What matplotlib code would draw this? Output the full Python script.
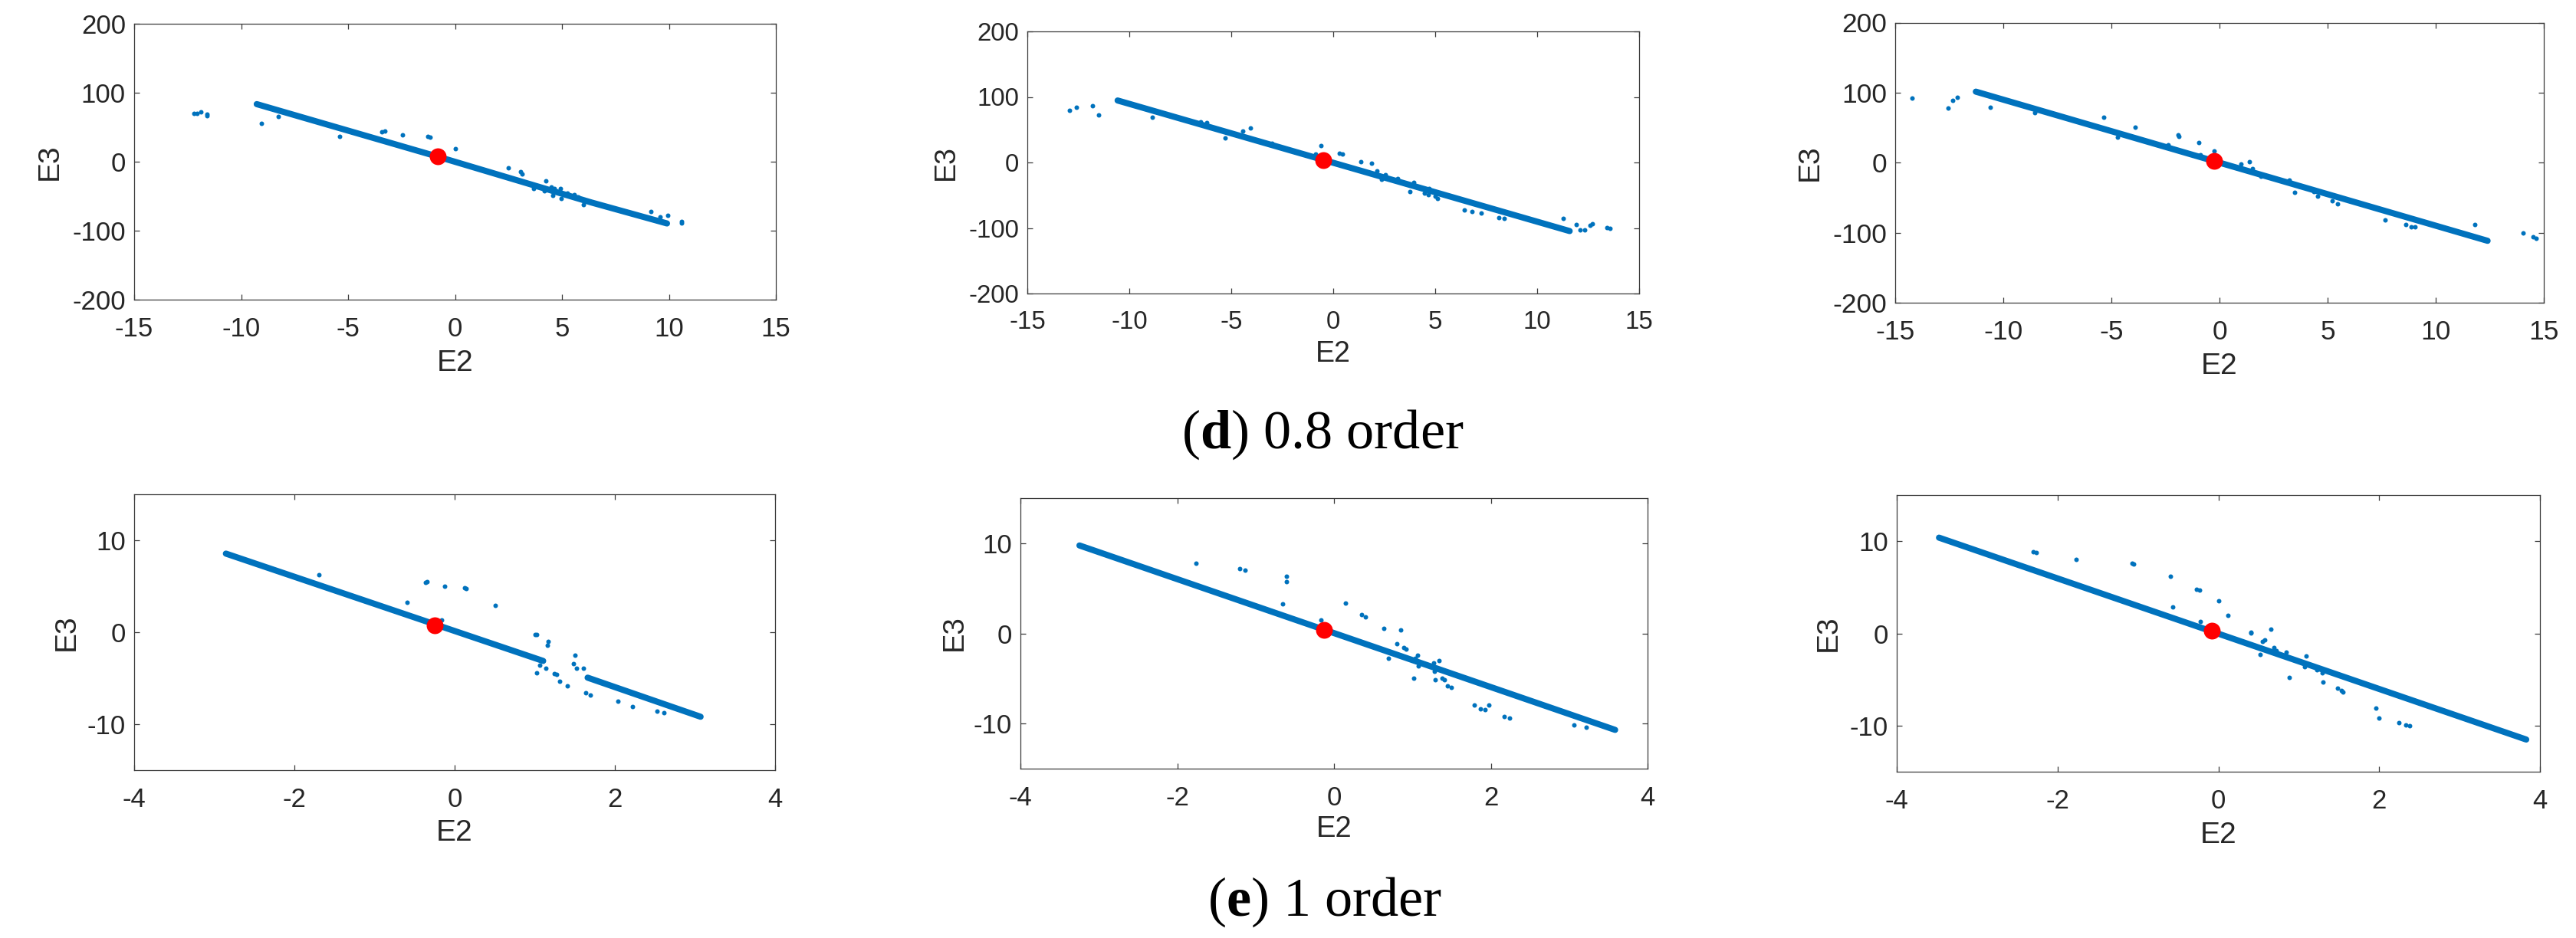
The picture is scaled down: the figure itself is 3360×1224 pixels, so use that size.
import matplotlib
matplotlib.use("Agg")
import matplotlib.pyplot as plt

# ------------------------------------------------------------------ data
# tick values
d_xticks = [-15, -10, -5, 0, 5, 10, 15]
d_yticks = [-200, -100, 0, 100, 200]
e_xticks = [-4, -2, 0, 2, 4]
e_yticks = [-10, 0, 10]

# ---- (d) 0.8 order, panel 1
p1_band_e2 = [-9.27, -0.81, 6.38, 9.91]
p1_band_e3 = [83.8, 7.6, -59.0, -89.4]
p1_out_e2 = [-12.22, -12.05, -11.87, -11.6, -11.6, -9.06, -8.27, -5.40, -3.44, -3.28,
             -2.46, -1.29, -1.18, 0.03, 2.49, 3.07, 3.12, 3.67, 4.25, 4.17,
             4.5, 4.63, 4.57, 4.93, 4.95, 5.25, 5.58, 5.75, 6.0, 9.14,
             9.6, 9.96, 10.6, 10.6]
p1_out_e3 = [69.8, 70.2, 72.3, 68.9, 66.8, 55.3, 65.5, 37.4, 43.4, 44.3,
             38.7, 37.4, 36.2, 19.6, -8.2, -14.6, -17.7, -39.2, -28.0, -42.4,
             -36.0, -38.4, -49.0, -39.2, -53.0, -45.2, -47.9, -51.1, -62.2, -71.8,
             -79.7, -78.0, -86.1, -88.8]
p1_center = [-0.81, 8.0]

# ---- (d) 0.8 order, panel 2
p2_band_e2 = [-10.57, 11.61]
p2_band_e3 = [94.6, -104.7]
p2_out_e2 = [-12.94, -12.60, -11.81, -11.52, -8.85, -6.48, -6.19, -5.29, -4.42, -4.05,
             -3.0, -0.6, -0.85, 0.32, 0.45, 1.37, 1.9, 2.16, 2.37, 2.58,
             3.16, 3.95, 3.77, 4.48, 4.69, 4.71, 5.0, 5.14, 6.46, 6.81,
             7.26, 8.12, 8.39, 11.29, 11.92, 12.13, 12.35, 12.6, 12.73, 13.45, 13.58]
p2_out_e3 = [79.4, 84.6, 86.2, 72.0, 68.7, 61.6, 61.2, 37.3, 47.8, 52.8,
             29.0, 26.1, 12.3, 13.5, 12.3, 1.0, -1.5, -12.8, -25.3, -18.2,
             -24.0, -30.7, -44.1, -46.2, -49.1, -39.9, -51.6, -54.5, -72.5, -75.4,
             -76.7, -83.8, -85.0, -85.0, -95.0, -103.4, -103.4, -96.3, -93.4, -99.2, -100.9]
p2_center = [-0.48, 3.9]

# ---- (d) 0.8 order, panel 3
p3_band_e2 = [-11.27, 12.4]
p3_band_e3 = [101.4, -111.6]
p3_out_e2 = [-14.23, -12.55, -12.34, -12.13, -10.61, -8.56, -5.35, -3.9, -4.71, -2.36,
             -1.93, -1.88, -0.96, -0.25, -0.9, 1.01, 1.4, 1.54, 1.9, 3.22,
             3.48, 3.69, 4.35, 4.53, 5.21, 5.47, 7.67, 8.62, 8.88, 9.06,
             11.82, 14.05, 14.5, 14.63]
p3_out_e3 = [92.4, 77.9, 89.3, 93.6, 79.1, 71.3, 65.0, 51.0, 36.1, 25.9,
             39.6, 38.0, 28.3, 16.7, 11.5, -1.4, 1.0, -8.0, -19.8, -24.8,
             -42.0, -33.5, -41.2, -48.3, -54.9, -58.9, -82.3, -88.2, -91.2, -91.2,
             -88.2, -100.6, -106.1, -108.4]
p3_center = [-0.25, 2.5]

# ---- (e) 1 order, panel 4 (band has a break)
p4_band_a_e2 = [-2.855, 1.105]
p4_band_a_e3 = [8.55, -3.12]
p4_band_b_e2 = [1.66, 3.07]
p4_band_b_e3 = [-4.94, -9.19]
p4_out_e2 = [-1.69, -0.59, -0.36, -0.34, -0.12, -0.16, 0.12, 0.14, 0.51, 1.0,
             1.02, 1.16, 1.17, 1.02, 1.06, 1.14, 1.24, 1.27, 1.31, 1.41,
             1.5, 1.48, 1.52, 1.61, 1.64, 1.69, 2.04, 2.22, 2.53, 2.61]
p4_out_e3 = [6.23, 3.25, 5.43, 5.5, 5.0, 1.36, 4.84, 4.74, 2.92, -0.27,
             -0.27, -1.39, -0.97, -4.38, -3.62, -3.95, -4.51, -4.61, -5.34, -5.84,
             -2.46, -3.45, -3.95, -3.95, -6.6, -6.83, -7.5, -8.09, -8.59, -8.76]
p4_center = [-0.25, 0.76]

# ---- (e) 1 order, panel 5
p5_band_e2 = [-3.247, 3.586]
p5_band_e3 = [9.75, -10.7]
p5_out_e2 = [-1.76, -1.2, -1.13, -0.61, -0.61, -0.66, -0.17, 0.15, 0.35, 0.40,
             0.64, 0.85, 0.80, 0.89, 0.92, 0.69, 1.07, 1.04, 1.08, 1.34,
             1.27, 1.28, 1.02, 1.29, 1.38, 1.41, 1.45, 1.50, 1.79, 1.87,
             1.93, 1.98, 2.17, 2.24, 3.06, 3.22]
p5_out_e3 = [7.77, 7.15, 7.04, 6.32, 5.71, 3.23, 1.47, 3.37, 2.04, 1.86,
             0.57, 0.38, -1.12, -1.56, -1.73, -2.74, -2.39, -2.74, -3.57, -3.03,
             -3.28, -4.18, -4.98, -5.16, -4.98, -5.16, -5.8, -5.98, -7.96, -8.33,
             -8.43, -7.96, -9.18, -9.35, -10.19, -10.39]
p5_center = [-0.13, 0.38]

# ---- (e) 1 order, panel 6
p6_band_e2 = [-3.474, 3.829]
p6_band_e3 = [10.38, -11.51]
p6_out_e2 = [-2.3, -2.26, -1.77, -1.07, -1.05, -0.6, -0.57, -0.27, -0.23, -0.22,
             0.0, 0.12, 0.41, 0.41, 0.65, 0.58, 0.55, 0.52, 0.69, 0.72,
             0.84, 1.09, 0.88, 1.07, 1.23, 1.29, 1.3, 1.48, 1.53, 1.55,
             1.96, 2.0, 2.25, 2.33, 2.38]
p6_out_e3 = [8.83, 8.73, 8.0, 7.64, 7.54, 6.16, 2.85, 4.77, 4.67, 1.3,
             3.55, 1.97, 0.12, 0.05, 0.48, -0.68, -0.84, -2.27, -1.51, -1.85,
             -2.02, -2.42, -4.74, -3.58, -3.98, -4.31, -5.3, -5.96, -6.23, -6.36,
             -8.11, -9.16, -9.7, -9.93, -10.0]
p6_center = [-0.083, 0.27]

captions = [r"($\mathbf{d}$) 0.8 order", r"($\mathbf{e}$) 1 order"]

# ------------------------------------------------------------------ style
W, H, DPI = 3360, 1224, 100
BLUE = "#0072BD"
RED = "#FF0000"
TXT = "#262626"
SPINE = "#3a3a3a"

plt.rcParams["font.family"] = ["Liberation Sans", "DejaVu Sans"]
plt.rcParams["axes.unicode_minus"] = False
plt.rcParams["mathtext.fontset"] = "custom"
plt.rcParams["mathtext.rm"] = "Liberation Serif"
plt.rcParams["mathtext.bf"] = "Liberation Serif:bold"

fig = plt.figure(figsize=(W / DPI, H / DPI), dpi=DPI)
fig.patch.set_facecolor("white")

# layout: (left, right, top, bottom) in pixels, label centres, font sizes
panels = [
    dict(box=(175, 1012, 31.4, 391), xl=(593.5, 474), yl=(65, 211), tfs=25, lfs=28,
         bands=[(p1_band_e2, p1_band_e3)], out=(p1_out_e2, p1_out_e3), c=p1_center,
         xlim=(-15, 15), ylim=(-200, 200), xt=d_xticks, yt=d_yticks),
    dict(box=(1340, 2137.5, 41, 383), xl=(1738.5, 462), yl=(1234, 212), tfs=23.8, lfs=27,
         bands=[(p2_band_e2, p2_band_e3)], out=(p2_out_e2, p2_out_e3), c=p2_center,
         xlim=(-15, 15), ylim=(-200, 200), xt=d_xticks, yt=d_yticks),
    dict(box=(2472, 3318, 29.5, 395), xl=(2895, 478), yl=(2361, 212), tfs=25.5, lfs=28,
         bands=[(p3_band_e2, p3_band_e3)], out=(p3_out_e2, p3_out_e3), c=p3_center,
         xlim=(-15, 15), ylim=(-200, 200), xt=d_xticks, yt=d_yticks),
    dict(box=(175, 1011, 645, 1005), xl=(593, 1087), yl=(86.5, 825), tfs=25, lfs=28,
         bands=[(p4_band_a_e2, p4_band_a_e3), (p4_band_b_e2, p4_band_b_e3)],
         out=(p4_out_e2, p4_out_e3), c=p4_center,
         xlim=(-4, 4), ylim=(-15, 15), xt=e_xticks, yt=e_yticks),
    dict(box=(1331, 2149, 650, 1003), xl=(1740, 1082), yl=(1245, 826), tfs=25, lfs=27.5,
         bands=[(p5_band_e2, p5_band_e3)], out=(p5_out_e2, p5_out_e3), c=p5_center,
         xlim=(-4, 4), ylim=(-15, 15), xt=e_xticks, yt=e_yticks),
    dict(box=(2474, 3313, 646, 1007), xl=(2894, 1089.5), yl=(2385, 826.6), tfs=25, lfs=28,
         bands=[(p6_band_e2, p6_band_e3)], out=(p6_out_e2, p6_out_e3), c=p6_center,
         xlim=(-4, 4), ylim=(-15, 15), xt=e_xticks, yt=e_yticks),
]

for p in panels:
    l, r, t, b = p["box"]
    ax = fig.add_axes([l / W, 1 - b / H, (r - l) / W, (b - t) / H])
    for bx, by in p["bands"]:
        ax.plot(bx, by, color=BLUE, lw=5.8, solid_capstyle="round", zorder=2)
    ox, oy = p["out"]
    ax.plot(ox, oy, "o", color=BLUE, ms=4.3, mec="none", zorder=3)
    ax.plot([p["c"][0]], [p["c"][1]], "o", color=RED, ms=15.8, mec="none", zorder=4)

    ax.set_xlim(*p["xlim"])
    ax.set_ylim(*p["ylim"])
    ax.set_xticks(p["xt"])
    ax.set_yticks(p["yt"])
    ax.tick_params(direction="in", length=5, width=0.9, top=True, right=True,
                   labelsize=p["tfs"], colors=SPINE, labelcolor=TXT)
    ax.tick_params(axis="x", pad=15.5)
    ax.tick_params(axis="y", pad=8)
    for s in ax.spines.values():
        s.set_color(SPINE)
        s.set_linewidth(0.9)

    ax.set_xlabel("E2", fontsize=p["lfs"], color=TXT)
    ax.set_ylabel("E3", fontsize=p["lfs"], color=TXT)
    ax.xaxis.set_label_coords(p["xl"][0] / W, 1 - p["xl"][1] / H, transform=fig.transFigure)
    ax.yaxis.set_label_coords(p["yl"][0] / W, 1 - p["yl"][1] / H, transform=fig.transFigure)
    ax.xaxis.label.set_va("center")
    ax.xaxis.label.set_ha("center")
    ax.yaxis.label.set_va("center")
    ax.yaxis.label.set_ha("center")

cap_pos = [(1725, 585), (1728, 1195)]
for txt, (cx, cy) in zip(captions, cap_pos):
    fig.text(cx / W, 1 - cy / H, txt, family="Liberation Serif", fontsize=52,
             ha="center", va="baseline", color="black")

fig.savefig("out.png", dpi=DPI, facecolor="white")
